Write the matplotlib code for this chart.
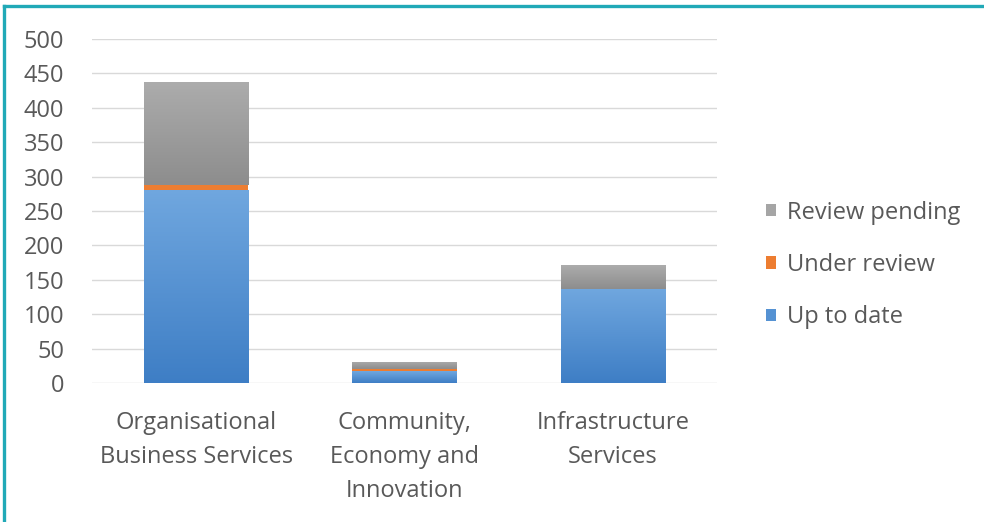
import matplotlib
matplotlib.use("Agg")
import matplotlib.pyplot as plt
import numpy as np
from matplotlib.colors import LinearSegmentedColormap
from matplotlib.lines import Line2D

categories = ["Organisational\nBusiness Services", "Community,\nEconomy and\nInnovation", "Infrastructure\nServices"]
up_to_date = [281, 17, 137]
under_review = [7, 3, 0]
review_pending = [149, 11, 34]
yticks = [0, 50, 100, 150, 200, 250, 300, 350, 400, 450, 500]

plt.rcParams['font.family'] = ['Open Sans', 'DejaVu Sans']
txt = "#595959"
FS = 17

fig = plt.figure(figsize=(9.84, 5.22), dpi=100)
W, H = 984, 522
ax = fig.add_axes([92 / W, 1 - 383 / H, (717 - 92) / W, (383 - 39) / H])

x = np.arange(len(categories))
width = 0.5
b1 = ax.bar(x, up_to_date, width, color="#5592D3", label="Up to date", zorder=3)
bottom2 = np.array(up_to_date)
b2 = ax.bar(x, under_review, width, bottom=bottom2, color="#ED7D31", label="Under review", zorder=3)
bottom3 = bottom2 + np.array(under_review)
b3 = ax.bar(x, review_pending, width, bottom=bottom3, color="#A5A5A5", label="Review pending", zorder=3)

def grad(container, top_c, bot_c):
    cmap = LinearSegmentedColormap.from_list("g", [bot_c, top_c])
    g = np.linspace(0, 1, 256).reshape(-1, 1)
    for p in container.patches:
        if p.get_height() <= 0:
            continue
        x0, y0 = p.get_x(), p.get_y()
        im = ax.imshow(g, cmap=cmap, origin="lower", aspect="auto",
                       extent=[x0, x0 + p.get_width(), y0, y0 + p.get_height()],
                       zorder=3.5, interpolation="bilinear")
        im.set_clip_path(p)

grad(b1, "#70A7DF", "#3E7EC5")
grad(b3, "#ACACAC", "#8D8D8D")

ax.set_xlim(-0.5, 2.5)
ax.set_ylim(0, 500)
ax.set_yticks(yticks)
ax.set_yticklabels([str(v) for v in yticks])
ax.set_xticks(x)
ax.set_xticklabels(categories, linespacing=1.55)
ax.yaxis.grid(True, color="#D9D9D9", linewidth=1.0, zorder=0)
ax.set_axisbelow(True)
for s in ax.spines.values():
    s.set_visible(False)
ax.tick_params(axis="y", length=0, pad=20, labelsize=FS, labelcolor=txt)
ax.tick_params(axis="x", length=0, pad=20, labelsize=FS, labelcolor=txt)

handles = [b3, b2, b1]
leg = fig.legend(handles, ["Review pending", "Under review", "Up to date"],
                 loc="center left", bbox_to_anchor=(766 / W, 1 - 265 / H),
                 frameon=False, fontsize=FS, labelcolor=txt,
                 handlelength=0.42, handleheight=0.42, handletextpad=0.45,
                 labelspacing=1.2, borderpad=0, borderaxespad=0)

# teal frame (top and left edges)
fig.add_artist(Line2D([4 / W, 1], [1 - 6 / H, 1 - 6 / H], transform=fig.transFigure,
                      color="#21A9B7", linewidth=2.4))
fig.add_artist(Line2D([4 / W, 4 / W], [0, 1 - 6 / H], transform=fig.transFigure,
                      color="#21A9B7", linewidth=2.4))

fig.savefig("out.png", dpi=100)
